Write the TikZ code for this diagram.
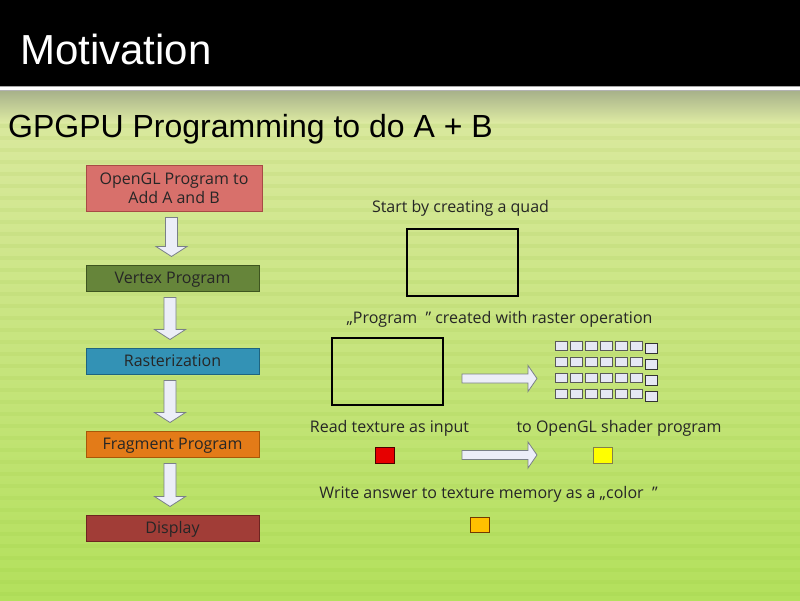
\documentclass[tikz,border=0pt]{standalone}
\usepackage{fontspec}
\setmainfont{Liberation Sans}
\newfontfamily\diagfont{Open Sans}
\usetikzlibrary{calc}

\definecolor{bgtop}{HTML}{DCE9A2}
\definecolor{bgmid}{HTML}{CFE78A}
\definecolor{bgbot}{HTML}{B3E05C}
\definecolor{hdrgray}{HTML}{A6B08A}
\definecolor{stripe}{HTML}{7FB020}
\definecolor{fillA}{HTML}{D8706B}
\definecolor{drawA}{HTML}{A84A45}
\definecolor{fillB}{HTML}{66853A}
\definecolor{drawB}{HTML}{3E5520}
\definecolor{fillC}{HTML}{3392B5}
\definecolor{drawC}{HTML}{1E6480}
\definecolor{fillD}{HTML}{E37B18}
\definecolor{drawD}{HTML}{A85808}
\definecolor{fillE}{HTML}{A13D37}
\definecolor{drawE}{HTML}{6E2420}
\definecolor{arrfill}{HTML}{ECEEF8}
\definecolor{arrdraw}{HTML}{7A8088}
\definecolor{cellfill}{HTML}{E6E8F4}
\definecolor{cellred}{HTML}{E60000}
\definecolor{cellyel}{HTML}{FFFF00}
\definecolor{cellorg}{HTML}{FFC000}

\tikzset{
  flowbox/.style={draw, line width=1pt, minimum width=173pt, minimum height=26pt,
    inner sep=0pt, text=black!85, font=\diagfont\fontsize{16}{19}\selectfont, align=center},
  onel/.style={text height=11.5pt, text depth=1.5pt},
  lbl/.style={inner sep=0pt, text=black!85, font=\diagfont\fontsize{16}{19}\selectfont},
  quadbox/.style={draw=black, line width=1.2pt, minimum width=111pt, minimum height=67pt, inner sep=0pt},
  hollowarrow/.style={draw=arrdraw, fill=arrfill, line width=0.8pt, line join=miter},
  cell/.style={draw=black!65, fill=cellfill, line width=0.8pt},
  colsq/.style={line width=0.8pt, minimum width=19pt, minimum height=16pt, inner sep=0pt}
}

\newcommand{\downarr}[2]{%
  \draw[hollowarrow] let \p1=(#1.south), \p2=(#2.north) in
    (\x1-8.5,\y1-6) -- (\x1+3.5,\y1-6) -- (\x1+3.5,\y2+18) -- (\x1+13,\y2+18)
    -- (\x1-2.5,\y2+8) -- (\x1-18,\y2+18) -- (\x1-8.5,\y2+18) -- cycle;}

\newcommand{\rightarr}[2]{%
  \draw[hollowarrow] let \p1=(#1), \p2=(#2) in
    (\x1,\y1+4.5) -- (\x2-9,\y1+4.5) -- (\x2-9,\y1+13) -- (\x2,\y1)
    -- (\x2-9,\y1-13) -- (\x2-9,\y1-4.5) -- (\x1,\y1-4.5) -- cycle;}

\begin{document}
\begin{tikzpicture}[x=1pt,y=-1pt]
\useasboundingbox (0,0) rectangle (800,600);

% background
\shade[top color=bgtop, middle color=bgmid, bottom color=bgbot] (0,86) rectangle (800,600);
\foreach \yy in {100,112,...,600} {
  \fill[stripe, opacity=0.08] (0,\yy) rectangle (800,\yy+4);
}
\shade[top color=hdrgray, bottom color=bgtop, opacity=1] (0,90) rectangle (800,122);
\fill[black] (0,0) rectangle (800,86);
\fill[black!35] (0,86) rectangle (800,87);
\fill[white] (0,87) rectangle (800,90);
\fill[black!30] (0,90) rectangle (800,91);

% titles
\node[anchor=base west, inner sep=0pt, text=white, font=\fontsize{42}{48}\selectfont] (title) at (20,64) {Motivation};
\node[anchor=base west, inner sep=0pt, text=black, font=\fontsize{32}{38}\selectfont] (sub) at (8,137) {GPGPU Programming to do A + B};

% flow boxes
\node[flowbox, fill=fillA, draw=drawA, minimum width=176pt, minimum height=46pt] (b1) at (174,188) {OpenGL Program to\\Add A and B};
\node[flowbox, onel, fill=fillB, draw=drawB] (b2) at (172.5,278) {Vertex Program};
\node[flowbox, onel, fill=fillC, draw=drawC] (b3) at (172.5,361) {Rasterization};
\node[flowbox, onel, fill=fillD, draw=drawD] (b4) at (172.5,444) {Fragment Program};
\node[flowbox, onel, fill=fillE, draw=drawE] (b5) at (172.5,528) {Display};

\downarr{b1}{b2}
\downarr{b2}{b3}
\downarr{b3}{b4}
\downarr{b4}{b5}

% right side
\node[lbl] (t1) at (460.5,208) {Start by creating a quad};
\node[quadbox] (q1) at (462.5,262.5) {};

\node[lbl] (t2) at (499.5,319) {„Program\ \ ” created with raster operation};
\node[quadbox] (q2) at (387.5,371.5) {};

% raster grid
\foreach \r in {0,1,2,3} {
  \foreach \c in {0,...,5} {
    \draw[cell] (555+15*\c,341+16*\r) rectangle ++(12,9.5);
  }
  \draw[cell, draw=black!80] (645,343.5+16*\r) rectangle ++(12,9.5);
}
\coordinate (r1s) at (462,378.5);
\coordinate (r1e) at (537,378.5);
\rightarr{r1s}{r1e}

\node[lbl] (t3) at (389.5,428) {Read texture as input};
\node[lbl] (t4) at (619,428) {to OpenGL shader program};

\node[colsq, fill=cellred, draw=black!70!red] (red) at (385,455.5) {};
\node[colsq, fill=cellyel, draw=black!55!yellow] (yel) at (602.5,455) {};
\coordinate (r2s) at (462,455);
\coordinate (r2e) at (537,455);
\rightarr{r2s}{r2e}

\node[lbl] (t5) at (488.5,494) {Write answer to texture memory as a „color\ \ ”};
\node[colsq, fill=cellorg, draw=black!55!orange, minimum height=15pt] (org) at (479.5,524.5) {};

\end{tikzpicture}
\end{document}
